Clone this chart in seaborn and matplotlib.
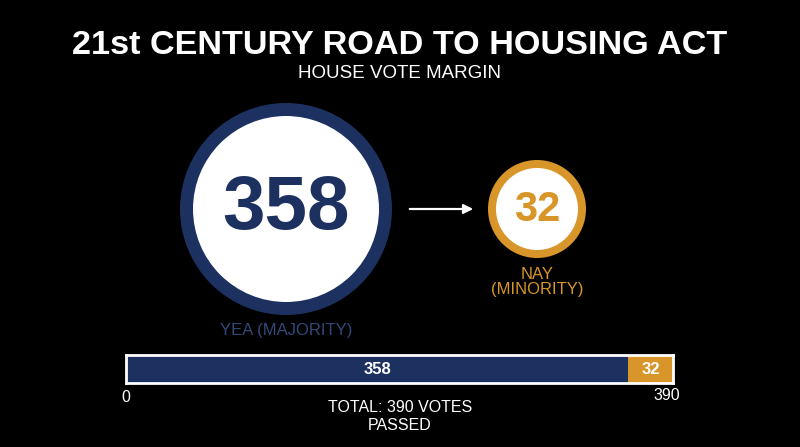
# House vote margin graphic - 21st Century ROAD to Housing Act
import matplotlib
matplotlib.use('Agg')
import matplotlib.pyplot as plt
from matplotlib.patches import Circle
import numpy as np
import seaborn as sns

# data
vote_labels = ['YEA (MAJORITY)', 'NAY\n(MINORITY)']
vote_counts = [358, 32]
total_votes = sum(vote_counts)
result_text = 'PASSED'

NAVY = '#1c3160'
ORANGE = '#d8962a'
YEA_LABEL = '#33487a'

sns.set_theme(style='white')
plt.rcParams['font.family'] = ['Liberation Sans', 'DejaVu Sans']
plt.rcParams['figure.facecolor'] = 'black'

W, H = 800, 447
fig = plt.figure(figsize=(W / 100, H / 100), dpi=100)

# full-figure axes in pixel units for the circles and text
ax = fig.add_axes([0, 0, 1, 1])
ax.set_xlim(0, W)
ax.set_ylim(H, 0)
ax.set_facecolor('black')
ax.axis('off')

ax.text(W / 2, 45, '21st CENTURY ROAD TO HOUSING ACT', color='white', fontsize=24.7,
        fontweight='bold', ha='center', va='center')
ax.text(W / 2, 74, 'HOUSE VOTE MARGIN', color='white', fontsize=13.5, ha='center', va='center')

# circles, radius scaled by cube root of votes
big_r = 106
radii = [big_r * (v / vote_counts[0]) ** (1 / 3) for v in vote_counts]
centers = [(286, 209), (537, 209)]
rings = [13, 8]
colors = [NAVY, ORANGE]
num_sizes = [55, 30]
for (cx, cy), r, ring, c, v, fs in zip(centers, radii, rings, colors, vote_counts, num_sizes):
    r = max(r, 49)
    ax.add_patch(Circle((cx, cy), r - ring / 2, facecolor='white', edgecolor=c,
                        linewidth=ring * 0.72))
    ax.text(cx, cy + 1, str(v), color=c, fontsize=fs, fontweight='bold',
            ha='center', va='center')

ax.text(286, 330, vote_labels[0], color=YEA_LABEL, fontsize=12, ha='center', va='center')
ax.text(537, 282, vote_labels[1], color=ORANGE, fontsize=12, ha='center', va='center',
        linespacing=1.0)

ax.annotate('', xy=(476, 209), xytext=(407, 209),
            arrowprops=dict(arrowstyle='-|>', color='white', lw=1.6, mutation_scale=14))

# stacked bar
bx = fig.add_axes([126 / W, 1 - 383 / H, (673 - 126) / W, 28 / H])
sns.barplot(x=[total_votes], y=[0], orient='h', color=ORANGE, width=1,
            saturation=1, ax=bx, edgecolor='none')
sns.barplot(x=[vote_counts[0]], y=[0], orient='h', color=NAVY, width=1,
            saturation=1, ax=bx, edgecolor='none')
bx.set_xlim(0, total_votes)
bx.set_ylim(0.5, -0.5)
bx.set_xticks([])
bx.set_yticks([])
bx.set_xlabel('')
bx.set_ylabel('')
for s in bx.spines.values():
    s.set_visible(True)
    s.set_color('white')
    s.set_linewidth(2)

bx.text(vote_counts[0] / 2, 0, str(vote_counts[0]), color='white', fontsize=12,
        fontweight='bold', ha='center', va='center')
bx.text(vote_counts[0] + vote_counts[1] / 2, 0, str(vote_counts[1]), color='white',
        fontsize=12, fontweight='bold', ha='center', va='center')

ax.text(126, 397, '0', color='white', fontsize=11.5, ha='center', va='center')
ax.text(667, 396, str(total_votes), color='white', fontsize=11.5, ha='center', va='center')
ax.text(W / 2, 408, f'TOTAL: {total_votes} VOTES', color='white', fontsize=11.5,
        ha='center', va='center')
ax.text(W / 2, 426, result_text, color='white', fontsize=11.5, ha='center', va='center')

fig.savefig('out.png', dpi=100, facecolor='black')
